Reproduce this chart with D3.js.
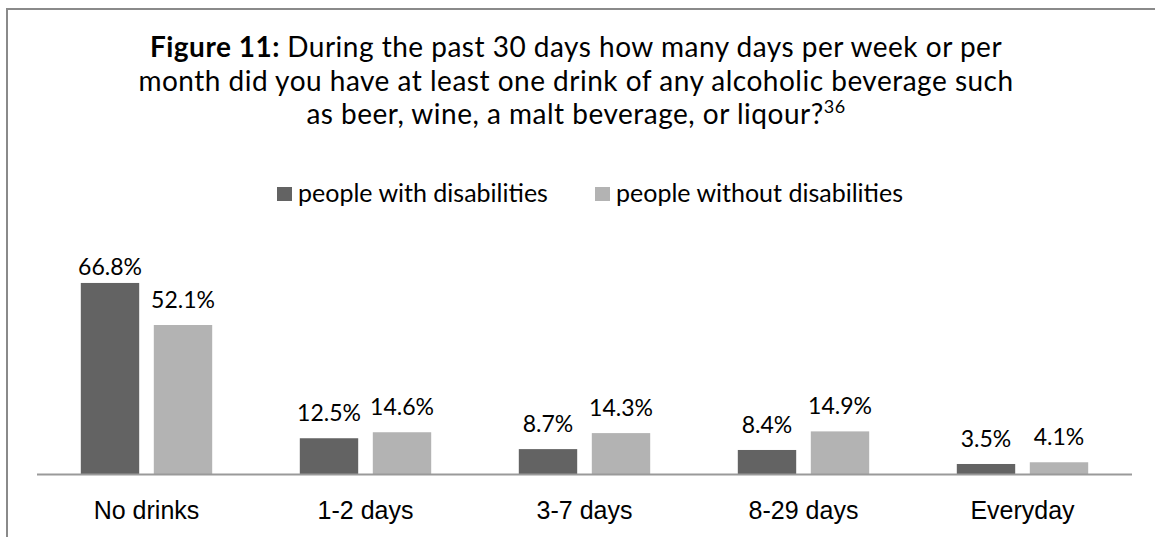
<!DOCTYPE html>
<html>
<head>
<meta charset="utf-8">
<script src="https://cdn.jsdelivr.net/npm/d3@7"></script>
<style>
    body { margin: 0; background: #fff; }
    svg { display: block; font-family: Lato, "Open Sans", sans-serif; }
</style>
</head>
<body>
<svg id="chart" width="1155" height="537"></svg>
<script>
var categories = [ 'No drinks', '1-2 days', '3-7 days', '8-29 days', 'Everyday' ],
    series = [ 'people with disabilities', 'people without disabilities' ],
    withDisabilities = [ 66.8, 12.5, 8.7, 8.4, 3.5 ],
    withoutDisabilities = [ 52.1, 14.6, 14.3, 14.9, 4.1 ],
    colors = [ '#636363', '#b3b3b3' ],
    titleLines = [
        'During the past 30 days how many days per week or per',
        'month did you have at least one drink of any alcoholic beverage such',
        'as beer, wine, a malt beverage, or liqour?'
    ];

var values = [ withDisabilities, withoutDisabilities ];

var svg = d3.select( '#chart' );

// outer frame, cut by the right and bottom of the picture
svg.append( 'rect' )
    .attr( 'x', 7 ).attr( 'y', 9 )
    .attr( 'width', 1170 ).attr( 'height', 560 )
    .attr( 'fill', 'none' )
    .attr( 'stroke', '#8a8a8a' )
    .attr( 'stroke-width', 2 );

// title
var $title = svg.append( 'text' )
    .attr( 'text-anchor', 'middle' )
    .attr( 'font-size', 28 )
    .attr( 'letter-spacing', 0.5 )
    .attr( 'fill', '#000' );

titleLines.forEach(function( line, i ){
    var $line = $title.append( 'tspan' )
        .attr( 'x', 576 )
        .attr( 'y', 57 + i * 33.5 );

    if ( i === 0 ){
        $line.append( 'tspan' ).attr( 'font-weight', 'bold' ).text( 'Figure 11: ' );
    }
    $line.append( 'tspan' ).text( line );
    if ( i === titleLines.length - 1 ){
        $line.append( 'tspan' )
            .attr( 'font-size', 18 )
            .attr( 'dy', -11 )
            .text( '36' );
    }
});

// legend
var legendX = [ 277, 595 ];
var $legend = svg.append( 'g' ).selectAll( 'g' )
    .data( series )
    .enter().append( 'g' )
    .attr( 'transform', function( d, i ){ return 'translate(' + legendX[i] + ',194)'; } );

$legend.append( 'rect' )
    .attr( 'x', 0 ).attr( 'y', -7 )
    .attr( 'width', 15 ).attr( 'height', 14 )
    .attr( 'fill', function( d, i ){ return colors[i]; } );

$legend.append( 'text' )
    .attr( 'x', 21 ).attr( 'y', 8 )
    .attr( 'font-size', 25 )
    .text( function( d ){ return d; } );

// scales
var x0 = d3.scaleBand()
        .domain( categories )
        .range( [37, 1132] ),
    x1 = d3.scaleBand()
        .domain( series )
        .range( [0, x0.bandwidth()] )
        .paddingInner( 0.2 )
        .paddingOuter( 0.6 ),
    y = d3.scaleLinear()
        .domain( [0, 80] )
        .range( [474, 474 - 80 * 2.86] );

var labelTop = 275;

var rows = [];
categories.forEach(function( c, ci ){
    series.forEach(function( s, si ){
        rows.push({ cat: c, ser: s, si: si, v: values[si][ci] });
    });
});

var $bars = svg.append( 'g' );

$bars.selectAll( 'rect' )
    .data( rows )
    .enter().append( 'rect' )
    .attr( 'x', function( d ){ return x0( d.cat ) + x1( d.ser ); } )
    .attr( 'y', function( d ){ return y( d.v ); } )
    .attr( 'width', x1.bandwidth() )
    .attr( 'height', function( d ){ return y( 0 ) - y( d.v ); } )
    .attr( 'fill', function( d ){ return colors[d.si]; } );

// labels sit above the bar, kept inside the chart area
$bars.selectAll( 'text' )
    .data( rows )
    .enter().append( 'text' )
    .attr( 'x', function( d ){ return x0( d.cat ) + x1( d.ser ) + x1.bandwidth() / 2; } )
    .attr( 'y', function( d ){ return Math.max( y( d.v ) - 17, labelTop ); } )
    .attr( 'text-anchor', 'middle' )
    .attr( 'font-size', 23 )
    .text( function( d ){ return d.v.toFixed( 1 ) + '%'; } );

// category axis
var $axis = svg.append( 'g' )
    .attr( 'transform', 'translate(0,' + y( 0 ) + ')' )
    .call( d3.axisBottom( x0 ).tickSize( 0 ).tickPadding( 0 ) );

$axis.select( '.domain' )
    .attr( 'stroke', '#9a9a9a' )
    .attr( 'stroke-width', 2 )
    .attr( 'd', 'M37,0.5H1132' );

$axis.selectAll( '.tick text' )
    .attr( 'font-family', null )
    .attr( 'font-size', 25 )
    .attr( 'fill', '#000' )
    .attr( 'dy', null )
    .attr( 'y', 45 );
</script>
</body>
</html>
